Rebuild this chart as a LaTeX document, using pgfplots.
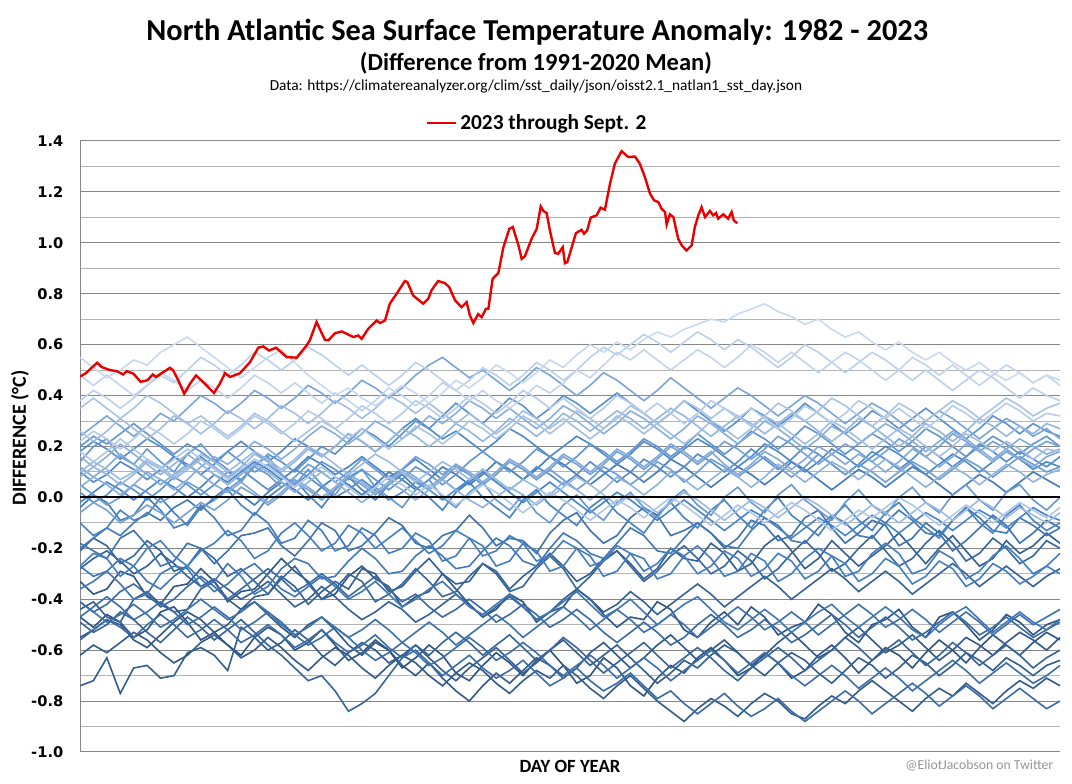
\documentclass[border=0pt]{standalone}
\usepackage{fontspec}
\setmainfont{Carlito}
\newfontfamily\tickfont{DejaVu Sans}
\usepackage{pgfplots}
\usepackage{pgfplotstable}
\pgfplotsset{compat=1.18}

\definecolor{bdark}{RGB}{46,84,130}
\definecolor{bmid}{RGB}{72,132,200}
\definecolor{blight}{RGB}{200,216,238}
\definecolor{gridmaj}{RGB}{134,134,134}
\definecolor{gridmin}{RGB}{180,180,180}
\definecolor{sstred}{RGB}{235,0,0}

% one colour per year, 1982 (yr1, dark) to 2022 (yr41, light)
\foreach \i in {1,...,21}{\pgfmathtruncatemacro\p{(\i-1)*5}\xglobal\colorlet{yr\i}{bmid!\p!bdark}}
\foreach \i in {22,...,41}{\pgfmathtruncatemacro\p{(\i-21)*5}\xglobal\colorlet{yr\i}{blight!\p!bmid}}

% first row: day of year; then one row per year 1982..2022 (5-day values)
\pgfplotstableread[header=false]{
1 6 11 16 21 26 31 36 41 46 51 56 61 66 71 76 81 86 91 96 101 106 111 116 121 126 131 136 141 146 151 156 161 166 171 176 181 186 191 196 201 206 211 216 221 226 231 236 241 246 251 256 261 266 271 276 281 286 291 296 301 306 311 316 321 326 331 336 341 346 351 356 361 366
-0.47 -0.51 -0.46 -0.49 -0.55 -0.52 -0.45 -0.43 -0.49 -0.56 -0.53 -0.58 -0.62 -0.55 -0.51 -0.54 -0.60 -0.57 -0.52 -0.58 -0.64 -0.61 -0.56 -0.60 -0.67 -0.63 -0.58 -0.62 -0.69 -0.72 -0.66 -0.61 -0.65 -0.70 -0.64 -0.60 -0.66 -0.73 -0.70 -0.63 -0.67 -0.74 -0.78 -0.71 -0.66 -0.69 -0.63 -0.59 -0.64 -0.70 -0.67 -0.61 -0.65 -0.71 -0.68 -0.62 -0.58 -0.63 -0.69 -0.64 -0.59 -0.62 -0.67 -0.61 -0.56 -0.60 -0.65 -0.59 -0.54 -0.58 -0.62 -0.57 -0.53 -0.56
-0.33 -0.38 -0.36 -0.29 -0.31 -0.39 -0.42 -0.35 -0.34 -0.28 -0.33 -0.41 -0.37 -0.36 -0.30 -0.24 -0.29 -0.33 -0.40 -0.38 -0.31 -0.27 -0.32 -0.35 -0.43 -0.39 -0.37 -0.30 -0.36 -0.42 -0.47 -0.44 -0.38 -0.41 -0.49 -0.45 -0.43 -0.36 -0.40 -0.46 -0.51 -0.47 -0.48 -0.41 -0.44 -0.52 -0.55 -0.49 -0.45 -0.50 -0.43 -0.47 -0.54 -0.51 -0.49 -0.42 -0.46 -0.53 -0.57 -0.50 -0.48 -0.44 -0.51 -0.55 -0.47 -0.45 -0.50 -0.56 -0.52 -0.46 -0.49 -0.54 -0.50 -0.48
-0.55 -0.52 -0.48 -0.50 -0.56 -0.59 -0.54 -0.49 -0.45 -0.48 -0.53 -0.50 -0.44 -0.41 -0.46 -0.51 -0.55 -0.50 -0.47 -0.52 -0.58 -0.62 -0.57 -0.60 -0.66 -0.70 -0.65 -0.71 -0.76 -0.80 -0.74 -0.69 -0.73 -0.68 -0.63 -0.66 -0.71 -0.67 -0.61 -0.57 -0.62 -0.67 -0.63 -0.58 -0.54 -0.59 -0.64 -0.60 -0.56 -0.61 -0.66 -0.62 -0.57 -0.53 -0.58 -0.63 -0.60 -0.55 -0.51 -0.56 -0.61 -0.58 -0.54 -0.59 -0.64 -0.60 -0.55 -0.58 -0.62 -0.57 -0.53 -0.56 -0.60 -0.55
-0.62 -0.58 -0.61 -0.57 -0.53 -0.56 -0.61 -0.65 -0.62 -0.57 -0.54 -0.58 -0.63 -0.60 -0.55 -0.59 -0.64 -0.68 -0.63 -0.59 -0.62 -0.67 -0.71 -0.66 -0.62 -0.65 -0.70 -0.74 -0.69 -0.65 -0.68 -0.73 -0.77 -0.72 -0.68 -0.71 -0.66 -0.70 -0.75 -0.79 -0.74 -0.70 -0.75 -0.80 -0.84 -0.88 -0.83 -0.79 -0.82 -0.86 -0.81 -0.77 -0.80 -0.85 -0.87 -0.82 -0.78 -0.81 -0.76 -0.72 -0.76 -0.80 -0.84 -0.79 -0.75 -0.78 -0.73 -0.77 -0.81 -0.76 -0.72 -0.75 -0.71 -0.74
-0.74 -0.72 -0.63 -0.77 -0.67 -0.66 -0.71 -0.70 -0.61 -0.59 -0.62 -0.68 -0.51 -0.55 -0.60 -0.57 -0.52 -0.56 -0.62 -0.66 -0.61 -0.57 -0.60 -0.65 -0.62 -0.58 -0.63 -0.68 -0.72 -0.67 -0.63 -0.59 -0.64 -0.69 -0.65 -0.60 -0.56 -0.61 -0.66 -0.62 -0.58 -0.63 -0.68 -0.73 -0.69 -0.64 -0.67 -0.62 -0.58 -0.61 -0.66 -0.70 -0.65 -0.61 -0.64 -0.69 -0.73 -0.68 -0.63 -0.66 -0.71 -0.67 -0.62 -0.65 -0.70 -0.66 -0.61 -0.64 -0.68 -0.63 -0.66 -0.70 -0.66 -0.64
-0.44 -0.41 -0.47 -0.49 -0.40 -0.37 -0.42 -0.45 -0.44 -0.36 -0.33 -0.40 -0.44 -0.39 -0.38 -0.31 -0.35 -0.42 -0.37 -0.33 -0.36 -0.28 -0.30 -0.37 -0.35 -0.29 -0.24 -0.30 -0.34 -0.33 -0.26 -0.29 -0.36 -0.31 -0.27 -0.22 -0.27 -0.33 -0.30 -0.24 -0.21 -0.26 -0.32 -0.28 -0.20 -0.24 -0.25 -0.18 -0.22 -0.29 -0.26 -0.19 -0.15 -0.21 -0.28 -0.24 -0.17 -0.22 -0.27 -0.23 -0.19 -0.14 -0.20 -0.26 -0.20 -0.15 -0.21 -0.27 -0.24 -0.17 -0.22 -0.19 -0.14 -0.18
-0.28 -0.24 -0.21 -0.25 -0.30 -0.27 -0.22 -0.26 -0.31 -0.35 -0.32 -0.36 -0.40 -0.37 -0.33 -0.38 -0.43 -0.40 -0.35 -0.39 -0.44 -0.48 -0.45 -0.41 -0.44 -0.49 -0.46 -0.42 -0.38 -0.42 -0.47 -0.43 -0.39 -0.43 -0.48 -0.45 -0.40 -0.36 -0.40 -0.45 -0.42 -0.37 -0.41 -0.46 -0.42 -0.38 -0.34 -0.38 -0.43 -0.39 -0.35 -0.31 -0.35 -0.40 -0.36 -0.32 -0.28 -0.32 -0.37 -0.33 -0.29 -0.33 -0.38 -0.34 -0.30 -0.26 -0.30 -0.35 -0.31 -0.27 -0.31 -0.35 -0.31 -0.28
-0.49 -0.53 -0.50 -0.45 -0.48 -0.53 -0.57 -0.52 -0.47 -0.51 -0.56 -0.52 -0.48 -0.53 -0.58 -0.62 -0.67 -0.72 -0.70 -0.76 -0.84 -0.81 -0.77 -0.70 -0.63 -0.58 -0.62 -0.57 -0.53 -0.57 -0.62 -0.58 -0.54 -0.59 -0.64 -0.60 -0.55 -0.59 -0.64 -0.69 -0.65 -0.61 -0.57 -0.62 -0.67 -0.63 -0.59 -0.63 -0.68 -0.72 -0.67 -0.63 -0.59 -0.63 -0.68 -0.64 -0.60 -0.55 -0.59 -0.64 -0.60 -0.56 -0.61 -0.66 -0.62 -0.57 -0.61 -0.66 -0.62 -0.58 -0.62 -0.67 -0.63 -0.60
-0.21 -0.16 -0.19 -0.26 -0.23 -0.17 -0.21 -0.29 -0.27 -0.20 -0.24 -0.31 -0.28 -0.33 -0.38 -0.32 -0.27 -0.34 -0.40 -0.36 -0.30 -0.33 -0.41 -0.38 -0.34 -0.28 -0.33 -0.39 -0.37 -0.31 -0.26 -0.30 -0.37 -0.35 -0.28 -0.23 -0.28 -0.36 -0.31 -0.25 -0.21 -0.27 -0.33 -0.29 -0.23 -0.19 -0.24 -0.30 -0.27 -0.21 -0.25 -0.32 -0.28 -0.22 -0.17 -0.22 -0.29 -0.26 -0.20 -0.15 -0.21 -0.27 -0.24 -0.18 -0.13 -0.18 -0.25 -0.22 -0.16 -0.20 -0.26 -0.23 -0.17 -0.20
-0.41 -0.45 -0.42 -0.37 -0.34 -0.38 -0.43 -0.40 -0.35 -0.31 -0.35 -0.40 -0.36 -0.32 -0.28 -0.32 -0.37 -0.34 -0.30 -0.34 -0.39 -0.35 -0.31 -0.36 -0.41 -0.38 -0.43 -0.47 -0.44 -0.40 -0.44 -0.49 -0.46 -0.42 -0.46 -0.51 -0.48 -0.44 -0.48 -0.53 -0.57 -0.53 -0.49 -0.53 -0.58 -0.55 -0.50 -0.46 -0.50 -0.55 -0.52 -0.48 -0.52 -0.57 -0.54 -0.50 -0.46 -0.50 -0.55 -0.51 -0.47 -0.51 -0.56 -0.53 -0.49 -0.45 -0.49 -0.54 -0.51 -0.47 -0.51 -0.55 -0.52 -0.49
-0.56 -0.52 -0.48 -0.51 -0.55 -0.50 -0.46 -0.50 -0.55 -0.52 -0.48 -0.52 -0.57 -0.54 -0.50 -0.54 -0.59 -0.56 -0.52 -0.57 -0.61 -0.58 -0.54 -0.59 -0.63 -0.60 -0.65 -0.70 -0.66 -0.62 -0.67 -0.71 -0.68 -0.64 -0.69 -0.74 -0.71 -0.67 -0.72 -0.76 -0.73 -0.69 -0.74 -0.79 -0.76 -0.81 -0.85 -0.81 -0.77 -0.82 -0.86 -0.83 -0.79 -0.84 -0.88 -0.84 -0.80 -0.76 -0.80 -0.85 -0.81 -0.77 -0.73 -0.77 -0.82 -0.78 -0.74 -0.78 -0.83 -0.79 -0.75 -0.79 -0.83 -0.80
-0.47 -0.43 -0.39 -0.43 -0.48 -0.45 -0.41 -0.45 -0.50 -0.47 -0.43 -0.47 -0.52 -0.49 -0.45 -0.49 -0.54 -0.58 -0.55 -0.51 -0.55 -0.60 -0.64 -0.61 -0.57 -0.61 -0.66 -0.63 -0.59 -0.55 -0.59 -0.64 -0.61 -0.57 -0.61 -0.66 -0.70 -0.66 -0.62 -0.66 -0.71 -0.67 -0.63 -0.67 -0.72 -0.68 -0.64 -0.60 -0.64 -0.69 -0.65 -0.61 -0.65 -0.70 -0.74 -0.70 -0.66 -0.70 -0.75 -0.71 -0.67 -0.71 -0.76 -0.72 -0.68 -0.64 -0.68 -0.73 -0.69 -0.65 -0.69 -0.73 -0.70 -0.66
-0.41 -0.45 -0.49 -0.46 -0.42 -0.46 -0.51 -0.48 -0.44 -0.40 -0.44 -0.48 -0.45 -0.41 -0.45 -0.50 -0.54 -0.51 -0.47 -0.51 -0.55 -0.52 -0.48 -0.52 -0.57 -0.53 -0.49 -0.53 -0.58 -0.54 -0.50 -0.46 -0.50 -0.55 -0.51 -0.47 -0.43 -0.47 -0.52 -0.48 -0.44 -0.48 -0.53 -0.50 -0.46 -0.50 -0.55 -0.51 -0.47 -0.43 -0.47 -0.52 -0.49 -0.45 -0.49 -0.54 -0.50 -0.46 -0.42 -0.46 -0.51 -0.48 -0.44 -0.48 -0.53 -0.49 -0.45 -0.49 -0.54 -0.50 -0.46 -0.50 -0.47 -0.44
-0.18 -0.21 -0.24 -0.16 -0.13 -0.19 -0.27 -0.25 -0.18 -0.20 -0.26 -0.21 -0.15 -0.14 -0.12 -0.19 -0.23 -0.17 -0.10 -0.13 -0.21 -0.19 -0.14 -0.08 -0.11 -0.18 -0.20 -0.15 -0.13 -0.07 -0.12 -0.19 -0.16 -0.17 -0.22 -0.14 -0.09 -0.06 -0.13 -0.18 -0.15 -0.08 -0.04 -0.07 -0.15 -0.13 -0.10 -0.14 -0.20 -0.16 -0.09 -0.11 -0.17 -0.15 -0.08 -0.05 -0.12 -0.18 -0.14 -0.09 -0.11 -0.19 -0.16 -0.10 -0.14 -0.21 -0.17 -0.12 -0.07 -0.11 -0.18 -0.14 -0.09 -0.12
-0.27 -0.31 -0.29 -0.24 -0.27 -0.33 -0.36 -0.31 -0.27 -0.32 -0.37 -0.34 -0.29 -0.26 -0.31 -0.36 -0.39 -0.35 -0.31 -0.35 -0.40 -0.37 -0.33 -0.38 -0.43 -0.40 -0.36 -0.33 -0.38 -0.43 -0.46 -0.42 -0.38 -0.43 -0.48 -0.45 -0.41 -0.37 -0.42 -0.47 -0.44 -0.40 -0.45 -0.50 -0.46 -0.42 -0.39 -0.44 -0.49 -0.52 -0.48 -0.44 -0.48 -0.53 -0.49 -0.45 -0.42 -0.47 -0.51 -0.47 -0.43 -0.47 -0.52 -0.55 -0.50 -0.46 -0.43 -0.48 -0.53 -0.49 -0.45 -0.49 -0.52 -0.48
-0.36 -0.33 -0.29 -0.34 -0.40 -0.38 -0.30 -0.27 -0.28 -0.35 -0.33 -0.26 -0.31 -0.38 -0.35 -0.28 -0.24 -0.26 -0.32 -0.31 -0.25 -0.20 -0.24 -0.30 -0.29 -0.23 -0.19 -0.23 -0.28 -0.27 -0.21 -0.16 -0.19 -0.25 -0.27 -0.20 -0.14 -0.17 -0.22 -0.24 -0.18 -0.12 -0.15 -0.21 -0.22 -0.16 -0.10 -0.14 -0.19 -0.20 -0.13 -0.08 -0.11 -0.17 -0.18 -0.12 -0.07 -0.10 -0.15 -0.16 -0.10 -0.05 -0.09 -0.14 -0.15 -0.09 -0.04 -0.08 -0.13 -0.14 -0.08 -0.11 -0.15 -0.12
-0.20 -0.16 -0.12 -0.15 -0.10 -0.06 -0.09 -0.04 -0.01 -0.05 0.00 0.04 0.01 -0.03 0.02 0.06 0.03 -0.01 0.04 0.08 0.05 0.01 0.05 0.10 0.07 0.03 0.07 0.12 0.09 0.05 0.09 0.14 0.11 0.07 0.11 0.16 0.13 0.09 0.05 0.09 0.13 0.10 0.06 0.10 0.15 0.12 0.08 0.04 0.08 0.12 0.09 0.05 0.09 0.14 0.11 0.07 0.03 0.07 0.11 0.08 0.04 0.08 0.12 0.09 0.05 0.01 0.05 0.09 0.06 0.02 0.06 0.10 0.07 0.04
-0.04 0.01 -0.02 -0.09 -0.07 0.00 -0.05 -0.12 -0.10 -0.03 -0.08 -0.15 -0.13 -0.06 -0.10 -0.18 -0.16 -0.09 -0.13 -0.21 -0.19 -0.12 -0.15 -0.22 -0.20 -0.14 -0.17 -0.25 -0.23 -0.16 -0.19 -0.27 -0.25 -0.18 -0.21 -0.29 -0.27 -0.20 -0.23 -0.31 -0.29 -0.22 -0.24 -0.32 -0.30 -0.23 -0.19 -0.24 -0.31 -0.29 -0.22 -0.25 -0.33 -0.30 -0.24 -0.20 -0.23 -0.31 -0.29 -0.22 -0.18 -0.22 -0.30 -0.28 -0.21 -0.24 -0.32 -0.29 -0.23 -0.19 -0.24 -0.30 -0.27 -0.22
-0.27 -0.22 -0.24 -0.31 -0.27 -0.20 -0.17 -0.23 -0.27 -0.21 -0.18 -0.13 -0.17 -0.24 -0.21 -0.14 -0.10 -0.15 -0.21 -0.18 -0.11 -0.14 -0.20 -0.16 -0.12 -0.17 -0.22 -0.19 -0.13 -0.16 -0.23 -0.21 -0.15 -0.18 -0.25 -0.23 -0.17 -0.20 -0.27 -0.25 -0.19 -0.22 -0.29 -0.26 -0.20 -0.23 -0.30 -0.27 -0.21 -0.24 -0.31 -0.28 -0.22 -0.25 -0.32 -0.29 -0.23 -0.26 -0.33 -0.30 -0.24 -0.27 -0.34 -0.31 -0.25 -0.28 -0.35 -0.32 -0.26 -0.29 -0.34 -0.31 -0.27 -0.30
-0.10 -0.15 -0.12 -0.05 -0.09 -0.07 0.00 -0.06 -0.11 -0.04 -0.01 0.03 -0.03 -0.07 0.00 0.04 0.07 0.01 -0.04 0.03 0.08 0.03 -0.01 0.05 0.09 0.04 0.00 -0.05 0.02 0.06 0.00 -0.04 -0.08 -0.01 0.03 -0.03 -0.07 -0.11 -0.04 0.00 -0.06 -0.10 -0.14 -0.07 -0.02 -0.08 -0.12 -0.05 -0.01 -0.07 -0.12 -0.05 0.00 -0.07 -0.11 -0.15 -0.08 -0.03 -0.09 -0.13 -0.06 -0.02 -0.08 -0.12 -0.16 -0.09 -0.04 -0.10 -0.14 -0.07 -0.03 -0.09 -0.13 -0.10
-0.02 0.02 0.06 0.03 -0.01 0.03 0.07 0.04 0.00 0.04 0.09 0.06 0.10 0.14 0.11 0.07 0.11 0.16 0.13 0.09 0.12 0.16 0.12 0.08 0.11 0.15 0.11 0.07 0.03 0.06 0.10 0.06 0.02 -0.02 0.02 0.06 0.02 -0.02 -0.06 -0.02 0.02 -0.01 -0.05 -0.09 -0.05 -0.01 -0.05 -0.09 -0.13 -0.09 -0.05 -0.08 -0.12 -0.16 -0.12 -0.08 -0.11 -0.15 -0.11 -0.07 -0.10 -0.14 -0.10 -0.06 -0.09 -0.13 -0.09 -0.05 -0.08 -0.12 -0.08 -0.04 -0.07 -0.09
0.10 0.06 0.09 0.14 0.11 0.07 0.11 0.16 0.13 0.09 0.13 0.18 0.22 0.18 0.14 0.18 0.23 0.20 0.16 0.20 0.25 0.22 0.18 0.22 0.27 0.31 0.27 0.23 0.26 0.22 0.18 0.22 0.27 0.24 0.20 0.16 0.20 0.24 0.21 0.17 0.13 0.17 0.22 0.19 0.15 0.19 0.23 0.20 0.16 0.12 0.16 0.21 0.18 0.14 0.10 0.14 0.19 0.16 0.12 0.16 0.20 0.17 0.13 0.09 0.13 0.17 0.14 0.10 0.14 0.18 0.15 0.11 0.14 0.12
0.18 0.22 0.19 0.15 0.19 0.23 0.20 0.16 0.12 0.16 0.12 0.08 0.11 0.07 0.03 0.07 0.11 0.08 0.04 0.00 0.03 0.07 0.03 -0.01 0.02 0.06 0.03 -0.01 0.03 0.07 0.11 0.07 0.03 0.07 0.12 0.09 0.05 0.09 0.14 0.10 0.06 0.10 0.15 0.12 0.08 0.12 0.17 0.14 0.10 0.14 0.19 0.15 0.11 0.15 0.20 0.17 0.13 0.09 0.13 0.18 0.15 0.11 0.15 0.20 0.16 0.12 0.16 0.21 0.18 0.14 0.18 0.15 0.12 0.16
0.02 -0.02 0.01 0.06 0.03 -0.01 0.03 0.08 0.05 0.01 0.05 0.10 0.07 0.12 0.17 0.14 0.10 0.15 0.20 0.17 0.22 0.27 0.24 0.20 0.25 0.30 0.27 0.32 0.37 0.33 0.29 0.34 0.39 0.36 0.31 0.35 0.40 0.37 0.33 0.37 0.41 0.37 0.33 0.29 0.33 0.38 0.34 0.30 0.26 0.30 0.35 0.32 0.28 0.32 0.37 0.33 0.29 0.25 0.29 0.34 0.31 0.27 0.31 0.35 0.31 0.27 0.23 0.27 0.32 0.29 0.25 0.29 0.26 0.24
0.20 0.24 0.21 0.25 0.29 0.25 0.21 0.17 0.21 0.18 0.14 0.18 0.14 0.10 0.13 0.09 0.05 0.09 0.14 0.11 0.07 0.11 0.07 0.03 0.07 0.12 0.09 0.05 0.09 0.14 0.18 0.14 0.10 0.14 0.19 0.16 0.12 0.16 0.21 0.18 0.14 0.18 0.23 0.20 0.16 0.20 0.25 0.21 0.17 0.21 0.26 0.23 0.19 0.23 0.28 0.25 0.21 0.17 0.21 0.25 0.22 0.18 0.22 0.27 0.24 0.20 0.16 0.20 0.24 0.21 0.17 0.21 0.24 0.20
0.14 0.20 0.23 0.16 0.13 0.19 0.14 0.10 0.17 0.21 0.15 0.11 0.06 0.13 0.16 0.09 0.05 0.11 0.05 0.01 0.08 0.11 0.04 0.00 -0.04 0.03 0.07 0.00 -0.04 0.02 0.06 -0.01 -0.05 0.01 -0.06 -0.10 -0.03 0.01 -0.05 -0.09 -0.02 0.02 -0.04 -0.08 -0.01 0.03 -0.03 -0.07 0.00 0.04 -0.02 -0.06 0.01 0.05 -0.01 -0.05 -0.09 -0.02 0.03 -0.03 -0.07 0.00 0.04 -0.02 -0.06 0.01 0.05 -0.01 -0.05 0.02 0.05 -0.01 -0.05 0.00
0.05 0.01 -0.03 0.00 0.05 0.02 -0.02 0.01 0.06 0.03 -0.01 0.03 0.07 0.12 0.09 0.04 0.08 0.13 0.10 0.06 0.10 0.15 0.11 0.07 0.11 0.16 0.13 0.09 0.13 0.09 0.05 0.09 0.14 0.11 0.07 0.11 0.07 0.03 0.07 0.12 0.09 0.05 0.09 0.14 0.11 0.06 0.10 0.15 0.12 0.08 0.12 0.16 0.12 0.08 0.12 0.17 0.13 0.09 0.13 0.10 0.06 0.10 0.14 0.11 0.07 0.11 0.15 0.12 0.08 0.12 0.16 0.13 0.10 0.12
-0.06 -0.02 -0.05 -0.10 -0.07 -0.03 -0.06 -0.10 -0.06 -0.02 -0.05 -0.01 0.04 0.01 -0.03 0.01 0.06 0.03 -0.01 0.03 0.08 0.05 0.01 0.05 0.10 0.07 0.03 0.07 0.12 0.09 0.05 0.09 0.14 0.11 0.07 0.11 0.16 0.13 0.09 0.13 0.18 0.15 0.11 0.15 0.20 0.17 0.13 0.17 0.22 0.19 0.15 0.19 0.24 0.21 0.17 0.13 0.17 0.21 0.18 0.14 0.18 0.23 0.20 0.16 0.20 0.25 0.22 0.18 0.22 0.19 0.15 0.19 0.22 0.20
0.24 0.28 0.32 0.28 0.24 0.28 0.33 0.30 0.35 0.40 0.37 0.33 0.37 0.42 0.39 0.35 0.39 0.44 0.41 0.37 0.41 0.46 0.43 0.39 0.43 0.48 0.52 0.55 0.51 0.47 0.50 0.46 0.42 0.46 0.51 0.48 0.44 0.40 0.44 0.49 0.46 0.42 0.38 0.42 0.47 0.43 0.39 0.35 0.39 0.43 0.40 0.36 0.32 0.36 0.40 0.37 0.33 0.29 0.33 0.37 0.34 0.30 0.26 0.30 0.34 0.31 0.27 0.23 0.27 0.31 0.28 0.24 0.27 0.23
0.12 0.08 0.12 0.17 0.13 0.09 0.05 0.09 0.13 0.09 0.05 0.02 0.06 0.02 -0.02 0.02 0.07 0.04 0.00 0.04 0.09 0.06 0.02 0.06 0.11 0.08 0.04 0.08 0.13 0.10 0.06 0.10 0.15 0.12 0.08 0.12 0.17 0.14 0.10 0.14 0.19 0.16 0.12 0.16 0.21 0.18 0.14 0.18 0.13 0.09 0.13 0.18 0.15 0.11 0.15 0.20 0.17 0.13 0.17 0.14 0.10 0.14 0.19 0.16 0.12 0.16 0.21 0.18 0.14 0.18 0.15 0.12 0.16 0.18
0.04 0.08 0.05 0.01 0.05 0.10 0.07 0.03 0.07 0.12 0.16 0.13 0.17 0.22 0.19 0.15 0.19 0.24 0.28 0.25 0.21 0.25 0.30 0.27 0.23 0.27 0.32 0.29 0.33 0.38 0.35 0.31 0.35 0.31 0.27 0.31 0.36 0.33 0.29 0.25 0.29 0.34 0.31 0.27 0.23 0.27 0.32 0.29 0.25 0.21 0.25 0.30 0.27 0.23 0.19 0.23 0.28 0.25 0.21 0.25 0.29 0.26 0.22 0.18 0.22 0.26 0.23 0.19 0.15 0.19 0.23 0.20 0.17 0.19
0.16 0.12 0.16 0.21 0.17 0.13 0.09 0.13 0.17 0.13 0.09 0.05 0.09 0.13 0.10 0.06 0.02 0.06 0.10 0.06 0.02 -0.02 0.02 0.06 0.03 -0.01 0.03 0.07 0.03 -0.01 -0.04 0.00 0.04 0.01 -0.03 0.01 0.06 0.03 -0.01 0.03 0.08 0.05 0.01 0.05 0.10 0.07 0.03 0.07 0.11 0.08 0.04 0.08 0.13 0.10 0.06 0.10 0.14 0.11 0.07 0.11 0.15 0.12 0.08 0.04 0.08 0.12 0.09 0.05 0.09 0.13 0.10 0.06 0.09 0.11
0.08 0.12 0.09 0.05 0.09 0.14 0.11 0.07 0.11 0.15 0.12 0.08 0.12 0.17 0.14 0.10 0.14 0.19 0.16 0.20 0.25 0.22 0.18 0.22 0.27 0.24 0.20 0.24 0.29 0.26 0.22 0.26 0.31 0.28 0.24 0.28 0.33 0.30 0.26 0.30 0.34 0.31 0.27 0.31 0.35 0.32 0.28 0.24 0.28 0.32 0.29 0.25 0.29 0.33 0.30 0.26 0.22 0.26 0.31 0.28 0.24 0.20 0.24 0.29 0.26 0.22 0.26 0.31 0.28 0.24 0.28 0.25 0.29 0.27
0.10 0.14 0.11 0.07 0.10 0.15 0.12 0.08 0.12 0.17 0.14 0.10 0.14 0.18 0.15 0.11 0.15 0.20 0.17 0.13 0.09 0.13 0.17 0.14 0.10 0.06 0.10 0.14 0.11 0.07 0.11 0.07 0.03 0.07 0.04 0.00 0.04 0.08 0.05 0.01 -0.03 0.01 -0.02 -0.06 -0.02 0.02 -0.01 -0.05 -0.09 -0.05 -0.01 -0.04 -0.08 -0.04 0.00 -0.03 -0.07 -0.11 -0.07 -0.03 -0.06 -0.10 -0.06 -0.02 -0.05 -0.09 -0.05 -0.01 -0.04 -0.08 -0.04 -0.07 -0.10 -0.06
0.26 0.22 0.26 0.31 0.27 0.23 0.27 0.32 0.29 0.25 0.29 0.34 0.31 0.27 0.31 0.36 0.33 0.29 0.33 0.38 0.35 0.31 0.35 0.40 0.37 0.33 0.37 0.33 0.29 0.33 0.29 0.25 0.29 0.34 0.31 0.27 0.31 0.27 0.23 0.27 0.32 0.29 0.25 0.29 0.25 0.21 0.25 0.30 0.27 0.23 0.27 0.32 0.29 0.25 0.21 0.25 0.30 0.27 0.23 0.19 0.23 0.27 0.24 0.20 0.16 0.20 0.25 0.22 0.18 0.22 0.19 0.15 0.19 0.18
0.35 0.39 0.35 0.31 0.35 0.40 0.37 0.33 0.29 0.32 0.28 0.24 0.28 0.33 0.30 0.26 0.22 0.26 0.30 0.27 0.23 0.27 0.23 0.19 0.23 0.28 0.25 0.21 0.25 0.30 0.27 0.23 0.27 0.32 0.29 0.25 0.29 0.34 0.31 0.27 0.31 0.36 0.33 0.29 0.33 0.38 0.35 0.31 0.35 0.32 0.28 0.32 0.37 0.34 0.30 0.34 0.39 0.36 0.32 0.28 0.32 0.37 0.34 0.30 0.34 0.38 0.35 0.31 0.35 0.39 0.36 0.32 0.35 0.37
0.18 0.14 0.18 0.23 0.19 0.15 0.11 0.15 0.19 0.15 0.11 0.07 0.11 0.15 0.12 0.08 0.04 0.08 0.12 0.08 0.04 0.00 0.04 0.08 0.05 0.01 0.05 0.01 -0.03 0.01 0.05 0.02 -0.02 -0.06 -0.02 0.02 -0.01 -0.05 -0.09 -0.05 -0.01 -0.04 -0.08 -0.04 0.00 -0.03 -0.07 -0.11 -0.07 -0.03 -0.06 -0.10 -0.06 -0.02 -0.05 -0.09 -0.13 -0.09 -0.05 -0.08 -0.04 0.00 -0.03 -0.07 -0.11 -0.07 -0.03 -0.06 -0.10 -0.06 -0.02 -0.05 -0.08 -0.04
0.22 0.26 0.23 0.19 0.23 0.28 0.25 0.21 0.25 0.30 0.27 0.23 0.27 0.32 0.29 0.25 0.29 0.34 0.31 0.27 0.31 0.36 0.33 0.29 0.33 0.38 0.35 0.31 0.35 0.40 0.37 0.33 0.37 0.42 0.39 0.35 0.39 0.35 0.31 0.35 0.40 0.37 0.33 0.37 0.33 0.29 0.33 0.38 0.35 0.31 0.35 0.31 0.27 0.31 0.36 0.33 0.29 0.33 0.38 0.35 0.31 0.35 0.31 0.27 0.31 0.36 0.33 0.29 0.33 0.37 0.34 0.30 0.33 0.32
0.38 0.42 0.39 0.35 0.39 0.44 0.48 0.45 0.50 0.55 0.52 0.48 0.52 0.57 0.54 0.50 0.54 0.59 0.56 0.52 0.48 0.52 0.48 0.44 0.48 0.53 0.50 0.46 0.42 0.46 0.51 0.48 0.44 0.48 0.53 0.50 0.46 0.50 0.55 0.59 0.56 0.60 0.64 0.61 0.57 0.61 0.65 0.62 0.58 0.62 0.59 0.55 0.51 0.55 0.60 0.57 0.53 0.49 0.53 0.57 0.54 0.50 0.46 0.50 0.46 0.42 0.46 0.50 0.47 0.43 0.39 0.43 0.40 0.38
0.48 0.44 0.48 0.44 0.40 0.44 0.49 0.46 0.42 0.46 0.43 0.39 0.43 0.48 0.45 0.41 0.45 0.41 0.37 0.41 0.38 0.34 0.38 0.43 0.40 0.36 0.40 0.45 0.42 0.38 0.42 0.38 0.35 0.39 0.44 0.41 0.45 0.50 0.47 0.52 0.57 0.54 0.58 0.54 0.50 0.54 0.58 0.55 0.51 0.55 0.60 0.57 0.53 0.57 0.53 0.49 0.53 0.57 0.54 0.50 0.46 0.50 0.55 0.52 0.48 0.52 0.48 0.44 0.48 0.52 0.49 0.45 0.48 0.44
0.55 0.51 0.47 0.50 0.54 0.52 0.57 0.60 0.63 0.59 0.55 0.51 0.47 0.51 0.55 0.58 0.53 0.48 0.44 0.40 0.43 0.39 0.36 0.40 0.44 0.41 0.37 0.41 0.46 0.43 0.47 0.52 0.49 0.45 0.49 0.54 0.51 0.56 0.60 0.57 0.61 0.58 0.62 0.65 0.63 0.66 0.68 0.70 0.69 0.72 0.74 0.76 0.73 0.71 0.68 0.70 0.66 0.63 0.65 0.61 0.58 0.61 0.57 0.54 0.57 0.53 0.50 0.53 0.49 0.46 0.49 0.45 0.48 0.46
}\bgrows
\pgfplotstabletranspose{\bg}{\bgrows}

\begin{document}
\begin{tikzpicture}
\path[use as bounding box] (0,0) rectangle (804pt,588pt);
\begin{axis}[
  at={(60pt,24pt)}, anchor=south west,
  scale only axis, width=735pt, height=458.25pt,
  xmin=1, xmax=366, ymin=-1, ymax=1.4,
  xtick=\empty,
  ytick={-1,-0.8,-0.6,-0.4,-0.2,0,0.2,0.4,0.6,0.8,1,1.2,1.4},
  yticklabels={-1.0,-0.8,-0.6,-0.4,-0.2,0.0,0.2,0.4,0.6,0.8,1.0,1.2,1.4},
  minor ytick={-0.9,-0.7,-0.5,-0.3,-0.1,0.1,0.3,0.5,0.7,0.9,1.1,1.3},
  ymajorgrids, yminorgrids,
  major grid style={gridmaj, line width=0.75pt},
  minor grid style={gridmin, line width=0.75pt},
  major tick length=0pt, minor tick length=0pt,
  axis x line*=bottom, axis y line*=left,
  axis line style={gridmaj, line width=0.75pt, -},
  yticklabel style={font=\tickfont\bfseries\fontsize{11}{13}\selectfont, xshift=-9pt},
  legend style={at={(0.467,1.0295)}, anchor=center, draw=none, fill=none,
    font=\bfseries\fontsize{16}{19}\selectfont},
  legend image code/.code={\draw[#1] (0pt,0pt) -- (21.75pt,0pt);},
]
\pgfplotsinvokeforeach{1,...,41}{
  \addplot[yr#1, line width=1.2pt, forget plot] table[x=0, y=#1] {\bg};
}
\addplot[black, line width=1.5pt, forget plot] coordinates {(1,0) (366,0)};
\addplot[sstred, line width=1.8pt] coordinates {
(1,0.475)(3.2,0.488)(4.7,0.503)(7.4,0.529)(9.1,0.512)(12.2,0.500)(14.7,0.496)(17.1,0.483)(18.4,0.496)(20.9,0.486)
(23.6,0.454)(26.1,0.460)(28.1,0.483)(29.3,0.473)(32.0,0.492)(34.5,0.509)(35.7,0.499)(37.6,0.460)(39.8,0.407)(42.0,0.447)
(44.2,0.479)(46.9,0.453)(50.9,0.410)(53.1,0.447)(55.0,0.488)(56.9,0.473)(60.6,0.488)(64.3,0.531)(67.4,0.588)(69.3,0.593)
(71.4,0.577)(74.0,0.588)(78.0,0.551)(81.7,0.549)(85.4,0.597)(86.6,0.617)(89.1,0.689)(92.2,0.619)(93.5,0.617)(96.0,0.645)
(98.5,0.652)(102.8,0.630)(104.6,0.636)(105.9,0.623)(108.4,0.663)(111.5,0.695)(112.7,0.685)(114.6,0.695)(116.4,0.761)(118.9,0.800)
(122.0,0.850)(122.9,0.846)(125.1,0.793)(128.8,0.761)(130.7,0.780)(131.9,0.813)(134.4,0.850)(136.9,0.842)(138.5,0.826)(140.7,0.774)
(143.1,0.747)(145.0,0.767)(146.2,0.715)(147.5,0.685)(149.3,0.720)(150.6,0.708)(152.2,0.741)(153.1,0.741)(154.7,0.859)(156.8,0.881)
(158.7,0.983)(160.9,1.055)(162.2,1.062)(164.3,0.990)(165.5,0.937)(166.7,0.947)(169.2,1.016)(171.1,1.055)(172.6,1.143)(173.6,1.125)
(174.8,1.117)(176.0,1.049)(177.9,0.960)(179.1,0.957)(180.8,0.983)(181.6,0.920)(182.5,0.924)(184.1,0.981)(185.7,1.038)(187.8,1.051)
(188.7,1.036)(189.9,1.049)(191.2,1.099)(193.4,1.108)(194.9,1.138)(196.5,1.130)(198.4,1.232)(200.2,1.311)(202.7,1.360)(205.2,1.337)
(207.7,1.339)(209.5,1.311)(211.4,1.258)(213.3,1.193)(214.8,1.167)(216.4,1.160)(217.6,1.134)(218.9,1.121)(219.5,1.072)(220.7,1.112)
(222.0,1.101)(223.8,1.016)(225.1,0.990)(226.9,0.970)(228.8,0.990)(230.0,1.062)(231.3,1.108)(232.5,1.140)(233.8,1.101)(235.6,1.125)
(236.8,1.108)(237.9,1.117)(238.7,1.095)(240.6,1.112)(242.4,1.095)(243.7,1.121)(244.5,1.088)(245.8,1.077)
};
\addlegendentry{2023 through Sept. 2}
\end{axis}
\node[font=\bfseries\fontsize{22.8}{26}\selectfont] at (403pt,564pt) {North Atlantic Sea Surface Temperature Anomaly: 1982 - 2023};
\node[font=\bfseries\fontsize{18.4}{22}\selectfont] at (402pt,540.5pt) {(Difference from 1991-2020 Mean)};
\node[font=\fontsize{11.5}{13}\selectfont] at (402pt,523pt) {Data: https://climatereanalyzer.org/clim/sst\_daily/json/oisst2.1\_natlan1\_sst\_day.json};
\node[font=\bfseries\fontsize{15}{17}\selectfont, rotate=90] at (15pt,259.5pt) {DIFFERENCE (°C)};
\node[font=\bfseries\fontsize{14}{16}\selectfont] at (427.5pt,13.5pt) {DAY OF YEAR};
\node[font=\fontsize{10.3}{12}\selectfont, text={rgb,255:red,150;green,150;blue,150}, anchor=east] at (793.5pt,13.5pt) {@EliotJacobson on Twitter};
\end{tikzpicture}
\end{document}
